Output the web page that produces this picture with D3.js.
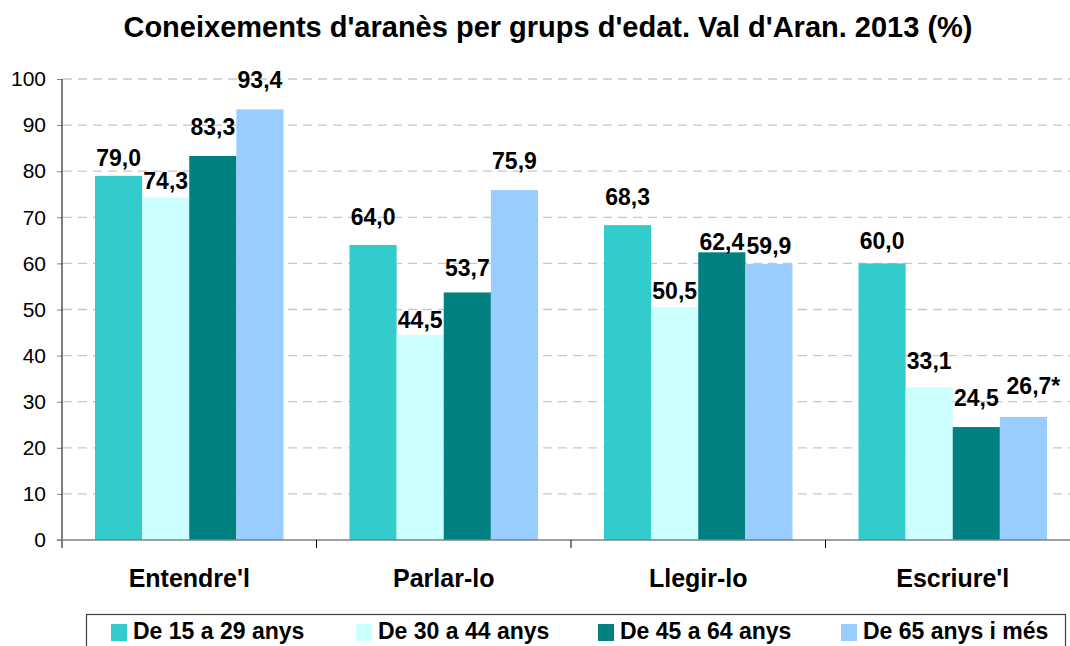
<!DOCTYPE html>
<html><head><meta charset="utf-8">
<script src="https://cdn.jsdelivr.net/npm/d3@7"></script>
<style>body{margin:0;background:#fff}svg{display:block;font-family:"Liberation Sans",Arial,sans-serif}</style>
</head><body>
<svg id="c" width="1070" height="646"></svg>
<script>
const title = "Coneixements d'aranès per grups d'edat. Val d'Aran. 2013 (%)";
const categories = ["Entendre'l", "Parlar-lo", "Llegir-lo", "Escriure'l"];
const series = ["De 15 a 29 anys", "De 30 a 44 anys", "De 45 a 64 anys", "De 65 anys i més"];
const colors = ["#33CCCC", "#CCFFFF", "#008080", "#99CCFF"];
const v15_29 = [79.0, 64.0, 68.3, 60.0];
const v30_44 = [74.3, 44.5, 50.5, 33.1];
const v45_64 = [83.3, 53.7, 62.4, 24.5];
const v65 = [93.4, 75.9, 59.9, 26.7];
const notes = [["", "", "", ""], ["", "", "", ""], ["", "", "", ""], ["", "", "", "*"]]; // notes[cat][series]
const yTicks = [0, 10, 20, 30, 40, 50, 60, 70, 80, 90, 100];

// label layout (gap above bar top, horizontal shift) per [category][series]
const labelGap = [[10, 8, 21, 21], [20, 7, 16, 21], [20, 8, 2, 10], [14, 18, 21, 23]];
const labelDx = [[0, 0, 0, 0], [0, 0, 0, 0], [0, 0, 0, 0], [0, 0, 0, 10]];

const values = [v15_29, v30_44, v45_64, v65];
const svg = d3.select("#c");
const L = 62, R = 1080, T = 79, B = 540;

const x0 = d3.scaleBand().domain(categories).range([L, R]).paddingInner(0).paddingOuter(0);
const groupPad = 33;
const x1 = d3.scaleBand().domain(series).range([groupPad, x0.bandwidth() - groupPad]);
const y = d3.scaleLinear().domain([0, 100]).range([B, T]);

svg.append("text").attr("x", 548).attr("y", 37).attr("text-anchor", "middle")
  .attr("font-size", 29).attr("font-weight", "bold").text(title);

// gridlines
svg.append("g").selectAll("line").data(yTicks.filter(d => d > 0)).join("line")
  .attr("x1", L + 1).attr("x2", R).attr("y1", d => y(d)).attr("y2", d => y(d))
  .attr("stroke", "#c8c8c8").attr("stroke-width", 1.3).attr("stroke-dasharray", "9,6");

// y axis
const yAxis = svg.append("g").attr("transform", `translate(${L},0)`)
  .call(d3.axisLeft(y).tickValues(yTicks).tickSize(5).tickPadding(11).tickFormat(d3.format("d")));
yAxis.select(".domain").remove();
yAxis.selectAll(".tick line").attr("stroke", "#808080");
yAxis.selectAll(".tick text").attr("font-size", 21).attr("font-family", "Liberation Sans, Arial, sans-serif").attr("fill", "#000");
svg.append("line").attr("x1", L).attr("x2", L).attr("y1", T).attr("y2", B + 8).attr("stroke", "#000").attr("stroke-width", 1);

// bars
const g = svg.append("g");
categories.forEach((c, ci) => {
  series.forEach((s, si) => {
    const v = values[si][ci];
    const bx = x0(c) + x1(s);
    g.append("rect").attr("x", bx).attr("y", y(v)).attr("width", x1.bandwidth()).attr("height", y(0) - y(v))
      .attr("fill", colors[si]);
  });
});
// baseline
svg.append("line").attr("x1", L - 5).attr("x2", R).attr("y1", B).attr("y2", B).attr("stroke", "#808080").attr("stroke-width", 1.5);
// category separators
svg.append("g").selectAll("line").data(categories.slice(1)).join("line")
  .attr("x1", d => x0(d)).attr("x2", d => x0(d)).attr("y1", B).attr("y2", B + 8).attr("stroke", "#000");

// data labels
const fmt = d3.format(".1f");
categories.forEach((c, ci) => {
  series.forEach((s, si) => {
    const v = values[si][ci];
    const cx = x0(c) + x1(s) + x1.bandwidth() / 2 + labelDx[ci][si];
    svg.append("text").attr("x", cx).attr("y", y(v) - labelGap[ci][si]).attr("text-anchor", "middle")
      .attr("font-size", 23).attr("font-weight", "bold").text(fmt(v).replace(".", ",") + notes[ci][si]);
  });
});

// category labels
svg.append("g").selectAll("text").data(categories).join("text")
  .attr("x", d => x0(d) + x0.bandwidth() / 2).attr("y", 587).attr("text-anchor", "middle")
  .attr("font-size", 25).attr("font-weight", "bold").text(d => d);

// legend
svg.append("rect").attr("x", 86.5).attr("y", 614.5).attr("width", 979).attr("height", 40)
  .attr("fill", "none").attr("stroke", "#404040").attr("stroke-width", 1.2);
const legX = [111, 356, 598, 841];
series.forEach((s, i) => {
  svg.append("rect").attr("x", legX[i]).attr("y", 624).attr("width", 16).attr("height", 17).attr("fill", colors[i]);
  svg.append("text").attr("x", legX[i] + 22).attr("y", 639).attr("font-size", 23).attr("font-weight", "bold").text(s);
});
</script>
</body></html>
